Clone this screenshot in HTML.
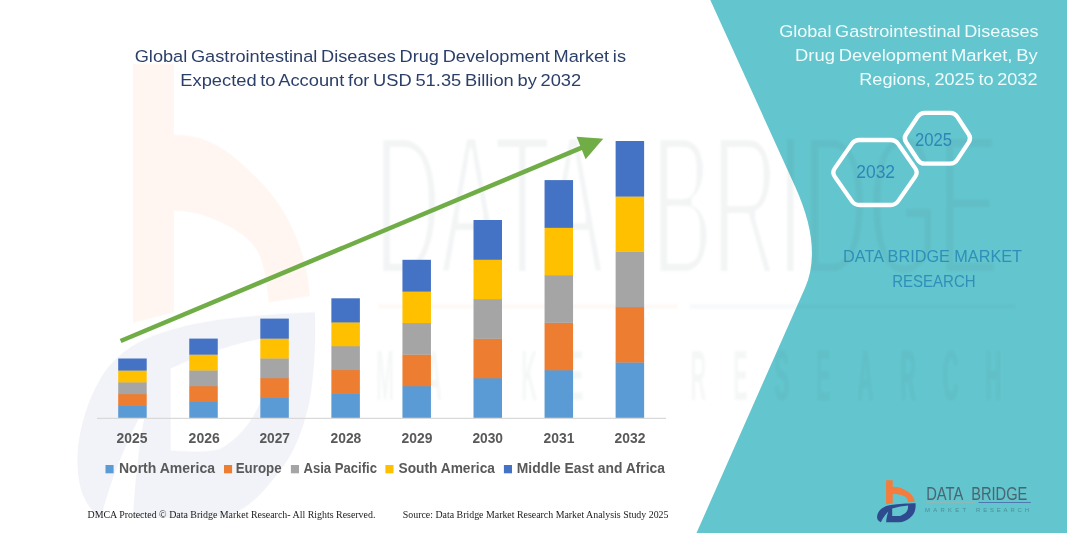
<!DOCTYPE html>
<html><head><meta charset="utf-8"><title>Global Gastrointestinal Diseases Drug Development Market</title>
<style>
html,body{margin:0;padding:0;background:#fff;}
body{width:1067px;height:533px;overflow:hidden;font-family:"Liberation Sans",sans-serif;}
svg{display:block;}
text{font-family:"Liberation Sans",sans-serif;}
.serif text{font-family:"Liberation Serif",serif;}
</style></head><body>
<svg width="1067" height="533" viewBox="0 0 1067 533">
<rect width="1067" height="533" fill="#ffffff"/>

<defs>
<filter id="thin" x="-5%" y="-5%" width="110%" height="110%"><feMorphology operator="erode" radius="1 3.6"/><feGaussianBlur stdDeviation="1"/></filter>
<filter id="blur1" x="-5%" y="-20%" width="110%" height="140%"><feGaussianBlur stdDeviation="1"/></filter>
<g id="logo-icon">
<path d="M886.1,480.2 L892.7,480.2 L892.7,486.8 C896.5,486.7 900,487.6 903,489.1 C906.5,490.8 909.5,492.6 911.4,494.8 C913.4,497.1 914.4,499 914.8,501.7 L908.1,502.3 C907.9,500.6 907.5,499.3 906.7,498 C905.4,496.4 903,495.6 900.1,494.8 C897.5,494.1 895,493.8 892.7,493.8 L892.7,503.2 L886.1,504.2 Z" fill="#F47C3C"/>
<path fill-rule="evenodd" d="M877.2,515.4 C878,512.5 879.5,510.5 881.4,508.8 C884,506.8 887,505.8 890.8,505.1 C895,504.3 899,503.9 903,503.7 C907,503.5 911,503.3 915.6,503.2 C915.8,506 915.5,509 914.7,511.6 C913.5,514.5 912,516.5 909.5,518.2 C907,520 905,521.3 902,521.9 C900,522.2 898,522.2 896,522.2 L886.1,522.2 C886.5,518 887.3,514.5 888.4,511.6 C886.5,513.5 883,517.5 880.9,522.2 C879,521.5 877.8,520.3 877.4,519 C877,517.8 877,516.6 877.2,515.4 Z M892.2,508.4 C897.5,507 903,506 908.1,505.5 C908.2,507.6 907.8,509.8 906.7,511.6 C905.2,513.6 903,515 900.1,515.9 C897.5,516.2 895,516.1 892.2,516 Z" fill="#2F4B8F"/>
</g>
<g id="logo-name" fill="#4A6570">
<text x="926.2" y="499.6" font-size="17.8" textLength="37.1" lengthAdjust="spacingAndGlyphs">DATA</text>
<text x="971.2" y="499.6" font-size="17.8" textLength="56.2" lengthAdjust="spacingAndGlyphs">BRIDGE</text>
</g>
<g id="logo-sub" fill="#4A8F99">
<text x="925" y="511.5" font-size="5.9" textLength="41" lengthAdjust="spacing">MARKET</text>
<text x="976" y="511.5" font-size="5.9" textLength="53" lengthAdjust="spacing">RESEARCH</text>
</g>
</defs>

<!-- teal panel -->
<path id="teal" d="M710.3,0 L794.9,186 Q822.9,247.6 805,288 L696.5,533 L1067,533 L1067,0 Z" fill="#63C5CD"/>

<!-- faint watermark = stretched logo -->
<g opacity="0.07">
<use href="#logo-icon" transform="translate(77,134) scale(6.16,10.8) translate(-877,-486.7)"/>
<g filter="url(#thin)"><use href="#logo-name" transform="translate(72,128.8) scale(6.16,11.33) translate(-877,-486.7)"/></g>
<g filter="url(#blur1)" opacity="0.75"><g transform="translate(376,400) scale(3.7,12.07)" fill="#4A6570" font-weight="bold" font-size="5.9">
<text x="0" y="0" textLength="68.3" lengthAdjust="spacing">MARKET</text>
<text x="85" y="0" textLength="84" lengthAdjust="spacing">RESEARCH</text>
</g></g>
<g filter="url(#blur1)" opacity="0.7"><rect x="378" y="304.5" width="300" height="4" fill="#F47C3C"/>
<rect x="690" y="304.5" width="325" height="4" fill="#4F78B0"/></g>
</g>

<!-- chart -->
<line x1="97" y1="418.3" x2="666" y2="418.3" stroke="#D9D9D9" stroke-width="1.2"/>
<g id="bars">
<rect x="118.20" y="405.70" width="28.5" height="12.10" fill="#5B9BD5"/>
<rect x="118.20" y="393.90" width="28.5" height="12.10" fill="#ED7D31"/>
<rect x="118.20" y="382.10" width="28.5" height="12.10" fill="#A5A5A5"/>
<rect x="118.20" y="370.30" width="28.5" height="12.10" fill="#FFC000"/>
<rect x="118.20" y="358.50" width="28.5" height="12.10" fill="#4472C4"/>
<rect x="189.26" y="401.72" width="28.5" height="16.08" fill="#5B9BD5"/>
<rect x="189.26" y="385.94" width="28.5" height="16.08" fill="#ED7D31"/>
<rect x="189.26" y="370.16" width="28.5" height="16.08" fill="#A5A5A5"/>
<rect x="189.26" y="354.38" width="28.5" height="16.08" fill="#FFC000"/>
<rect x="189.26" y="338.60" width="28.5" height="16.08" fill="#4472C4"/>
<rect x="260.32" y="397.72" width="28.5" height="20.08" fill="#5B9BD5"/>
<rect x="260.32" y="377.94" width="28.5" height="20.08" fill="#ED7D31"/>
<rect x="260.32" y="358.16" width="28.5" height="20.08" fill="#A5A5A5"/>
<rect x="260.32" y="338.38" width="28.5" height="20.08" fill="#FFC000"/>
<rect x="260.32" y="318.60" width="28.5" height="20.08" fill="#4472C4"/>
<rect x="331.38" y="393.66" width="28.5" height="24.14" fill="#5B9BD5"/>
<rect x="331.38" y="369.82" width="28.5" height="24.14" fill="#ED7D31"/>
<rect x="331.38" y="345.98" width="28.5" height="24.14" fill="#A5A5A5"/>
<rect x="331.38" y="322.14" width="28.5" height="24.14" fill="#FFC000"/>
<rect x="331.38" y="298.30" width="28.5" height="24.14" fill="#4472C4"/>
<rect x="402.44" y="385.96" width="28.5" height="31.84" fill="#5B9BD5"/>
<rect x="402.44" y="354.42" width="28.5" height="31.84" fill="#ED7D31"/>
<rect x="402.44" y="322.88" width="28.5" height="31.84" fill="#A5A5A5"/>
<rect x="402.44" y="291.34" width="28.5" height="31.84" fill="#FFC000"/>
<rect x="402.44" y="259.80" width="28.5" height="31.84" fill="#4472C4"/>
<rect x="473.50" y="378.00" width="28.5" height="39.80" fill="#5B9BD5"/>
<rect x="473.50" y="338.50" width="28.5" height="39.80" fill="#ED7D31"/>
<rect x="473.50" y="299.00" width="28.5" height="39.80" fill="#A5A5A5"/>
<rect x="473.50" y="259.50" width="28.5" height="39.80" fill="#FFC000"/>
<rect x="473.50" y="220.00" width="28.5" height="39.80" fill="#4472C4"/>
<rect x="544.56" y="370.02" width="28.5" height="47.78" fill="#5B9BD5"/>
<rect x="544.56" y="322.54" width="28.5" height="47.78" fill="#ED7D31"/>
<rect x="544.56" y="275.06" width="28.5" height="47.78" fill="#A5A5A5"/>
<rect x="544.56" y="227.58" width="28.5" height="47.78" fill="#FFC000"/>
<rect x="544.56" y="180.10" width="28.5" height="47.78" fill="#4472C4"/>
<rect x="615.62" y="362.20" width="28.5" height="55.60" fill="#5B9BD5"/>
<rect x="615.62" y="306.90" width="28.5" height="55.60" fill="#ED7D31"/>
<rect x="615.62" y="251.60" width="28.5" height="55.60" fill="#A5A5A5"/>
<rect x="615.62" y="196.30" width="28.5" height="55.60" fill="#FFC000"/>
<rect x="615.62" y="141.00" width="28.5" height="55.60" fill="#4472C4"/>
</g>
<g id="arrow" fill="#70AD47" stroke="none">
<line x1="120.6" y1="341.0" x2="583" y2="147.2" stroke="#70AD47" stroke-width="4.6"/>
<polygon points="603.3,138.7 576.6,136.7 585.6,159.3"/>
</g>
<g id="xlabels" font-size="13.9" font-weight="bold" fill="#595959">
<text x="116.6" y="443.4" textLength="30.9" lengthAdjust="spacingAndGlyphs">2025</text>
<text x="188.6" y="443.4" textLength="31.2" lengthAdjust="spacingAndGlyphs">2026</text>
<text x="259.4" y="443.4" textLength="30.6" lengthAdjust="spacingAndGlyphs">2027</text>
<text x="330.5" y="443.4" textLength="30.8" lengthAdjust="spacingAndGlyphs">2028</text>
<text x="401.6" y="443.4" textLength="30.9" lengthAdjust="spacingAndGlyphs">2029</text>
<text x="472.4" y="443.4" textLength="30.6" lengthAdjust="spacingAndGlyphs">2030</text>
<text x="543.5" y="443.4" textLength="30.9" lengthAdjust="spacingAndGlyphs">2031</text>
<text x="614.6" y="443.4" textLength="30.8" lengthAdjust="spacingAndGlyphs">2032</text>
</g>
<g id="legend" font-size="14.5" font-weight="bold" fill="#595959">
<rect x="105.5" y="465" width="8.1" height="8.3" fill="#5B9BD5"/>
<text x="119.0" y="473.3" textLength="96.0" lengthAdjust="spacingAndGlyphs">North America</text>
<rect x="224.0" y="465" width="8.1" height="8.3" fill="#ED7D31"/>
<text x="235.7" y="473.3" textLength="45.9" lengthAdjust="spacingAndGlyphs">Europe</text>
<rect x="290.9" y="465" width="8.1" height="8.3" fill="#A5A5A5"/>
<text x="303.5" y="473.3" textLength="73.5" lengthAdjust="spacingAndGlyphs">Asia Pacific</text>
<rect x="385.4" y="465" width="8.1" height="8.3" fill="#FFC000"/>
<text x="398.6" y="473.3" textLength="96.3" lengthAdjust="spacingAndGlyphs">South America</text>
<rect x="503.9" y="465" width="8.1" height="8.3" fill="#4472C4"/>
<text x="516.8" y="473.3" textLength="148.2" lengthAdjust="spacingAndGlyphs">Middle East and Africa</text>
</g>

<!-- title -->
<g id="title" font-size="17.4" fill="#2B3F68" style="word-spacing:-1.3px">
<text x="134.7" y="62.1" textLength="491.3" lengthAdjust="spacingAndGlyphs">Global Gastrointestinal Diseases Drug Development Market is</text>
<text x="180.3" y="85.7" textLength="400.9" lengthAdjust="spacingAndGlyphs">Expected to Account for USD 51.35 Billion by 2032</text>
</g>

<!-- right panel title -->
<g id="rtitle" font-size="17.4" fill="#EFFCFD" style="word-spacing:-1.3px">
<text x="779.2" y="37.0" textLength="259.4" lengthAdjust="spacingAndGlyphs">Global Gastrointestinal Diseases</text>
<text x="795.0" y="60.9" textLength="242.7" lengthAdjust="spacingAndGlyphs">Drug Development Market, By</text>
<text x="859.3" y="85.1" textLength="178.2" lengthAdjust="spacingAndGlyphs">Regions, 2025 to 2032</text>
</g>

<!-- hexagons -->
<g id="hex" fill="none" stroke="#ffffff" stroke-width="4.3" stroke-linejoin="round">
<path d="M834.75,176.61 Q831.90,172.50 834.75,168.39 L851.65,144.11 Q854.50,140.00 859.50,140.00 L890.50,140.00 Q895.50,140.00 898.35,144.11 L915.25,168.39 Q918.10,172.50 915.25,176.61 L898.35,200.89 Q895.50,205.00 890.50,205.00 L859.50,205.00 Q854.50,205.00 851.65,200.89 Z"/>
<path d="M905.98,142.05 Q903.50,138.30 905.98,134.55 L917.82,116.65 Q920.30,112.90 924.80,112.90 L950.20,112.90 Q954.70,112.90 957.16,116.67 L968.84,134.53 Q971.30,138.30 968.84,142.07 L957.16,159.93 Q954.70,163.70 950.20,163.70 L924.80,163.70 Q920.30,163.70 917.82,159.95 Z"/>
</g>
<g id="hextext" font-size="17.8" fill="#2E86B7">
<text x="856.2" y="177.8" textLength="38.9" lengthAdjust="spacingAndGlyphs">2032</text>
<text x="914.9" y="146.0" textLength="37.1" lengthAdjust="spacingAndGlyphs">2025</text>
</g>

<!-- DBMR label -->
<g id="dbmr" font-size="16.2" fill="#2F8FB9">
<text x="843.1" y="262.3" textLength="178.9" lengthAdjust="spacingAndGlyphs">DATA BRIDGE MARKET</text>
<text x="892.2" y="286.5" textLength="83.4" lengthAdjust="spacingAndGlyphs">RESEARCH</text>
</g>

<!-- footer -->
<g class="serif" font-size="10.6" fill="#1a1a1a">
<text x="87.5" y="518.4" textLength="287.9" lengthAdjust="spacingAndGlyphs">DMCA Protected © Data Bridge Market Research-  All Rights Reserved.</text>
<text x="402.8" y="518.4" textLength="265.7" lengthAdjust="spacingAndGlyphs">Source: Data Bridge Market Research  Market Analysis Study 2025</text>
</g>

<!-- logo -->
<use href="#logo-icon"/><use href="#logo-name"/><use href="#logo-sub"/>
<rect x="926" y="501.8" width="50" height="0.8" fill="#C4AE9C" opacity="0.7"/>
<rect x="978.5" y="502.0" width="52.3" height="1.0" fill="#4F78B0"/>
</svg>
</body></html>
